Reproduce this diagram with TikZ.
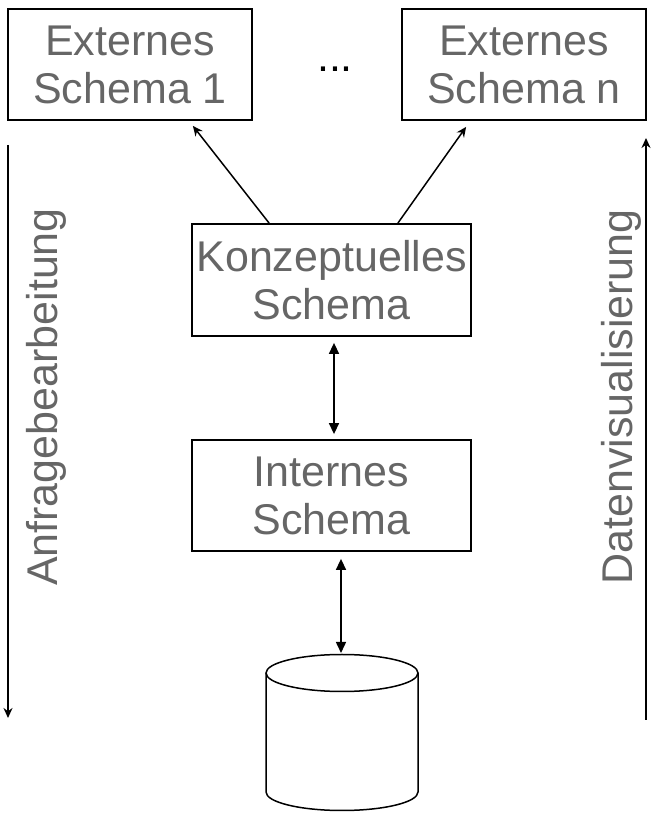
\documentclass[tikz,border=0pt]{standalone}
\usepackage{fontspec}
\setmainfont{Liberation Sans}
\usetikzlibrary{arrows.meta}
\definecolor{schrift}{HTML}{666666}
\tikzset{
  schemabox/.style={draw, line width=1.8pt, align=center, text=schrift, inner sep=0pt, font=\fontsize{43}{48}\selectfont},
  seite/.style={rotate=90, anchor=base, text=schrift, font=\fontsize{43}{48}\selectfont},
  pfeil/.style={line width=1.5pt, -{Stealth[length=10pt,width=9pt]}},
  doppelpfeil/.style={line width=1.5pt, {Triangle[length=11pt,width=10pt]}-{Triangle[length=11pt,width=10pt]}}
}
\begin{document}
\begin{tikzpicture}[x=1pt,y=1pt]
        \useasboundingbox (0,0) rectangle (661,817);
        \node[schemabox, minimum width=244pt, minimum height=111pt] (ext1) at (130,752.5) {Externes\\Schema 1};
        \node[schemabox, minimum width=244pt, minimum height=111pt] (extn) at (524,752.5) {Externes\\Schema n};
        \node[anchor=base, font=\fontsize{43}{48}\selectfont] (punkte) at (335,745) {...};
        \node[schemabox, minimum width=279pt, minimum height=112pt] (konz) at (331.5,537) {Konzeptuelles\\Schema};
        \node[schemabox, minimum width=279pt, minimum height=111pt] (int) at (331.5,321.5) {Internes\\Schema};
        % Datenbank
        \draw[line width=1.5pt] (342,144) ellipse [x radius=76, y radius=18.5];
        \draw[line width=1.5pt] (266,144) -- (266,25) arc[start angle=180, end angle=360, x radius=76, y radius=18.5] -- (418,144);
        \coordinate (db) at (341,164);
        \draw[pfeil] ([xshift=78pt]konz.north west) -- ([xshift=-60pt,yshift=-5pt]ext1.south east);
        \draw[pfeil] ([xshift=-74pt]konz.north east) -- ([xshift=65pt,yshift=-6pt]extn.south west);
        \draw[doppelpfeil] ([xshift=2.5pt,yshift=-6pt]konz.south) -- ([xshift=2.5pt,yshift=5pt]int.north);
        \draw[doppelpfeil] ([xshift=9.5pt,yshift=-7pt]int.south) -- (db);
        % Seiten
        \coordinate (lo) at (8,672); \coordinate (lu) at (8,99);
        \coordinate (ro) at (646,679); \coordinate (ru) at (646,97);
        \draw[pfeil] (lo) -- (lu);
        \draw[pfeil] (ru) -- (ro);
        \node[seite] (anfrage) at (57,420) {Anfragebearbeitung};
        \node[seite] (visual) at (632,420) {Datenvisualisierung};
\end{tikzpicture}
\end{document}
